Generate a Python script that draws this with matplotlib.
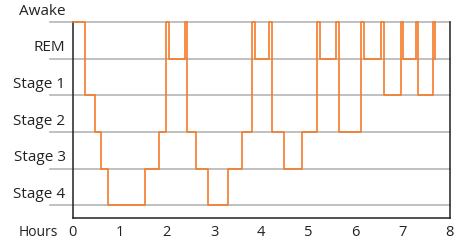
import matplotlib
matplotlib.use("Agg")
import matplotlib.pyplot as plt
import matplotlib.transforms as mtransforms

# Stage levels: Awake=5, REM=4, Stage 1=3, Stage 2=2, Stage 3=1, Stage 4=0
stage_labels = ["Stage 4", "Stage 3", "Stage 2", "Stage 1", "REM", "Awake"]
stage_levels = [0, 1, 2, 3, 4, 5]
hour_ticks = [0, 1, 2, 3, 4, 5, 6, 7, 8]

# transition times (hours) and stage entered at that time
times = [0.00, 0.255, 0.477, 0.607, 0.746, 1.540, 1.824, 1.990, 2.040, 2.375, 2.425,
         2.611, 2.873, 3.302, 3.585, 3.813, 3.870, 4.178, 4.238, 4.489, 4.877,
         5.181, 5.244, 5.596, 5.650, 6.120, 6.180, 6.545, 6.600, 6.964, 7.007,
         7.287, 7.337, 7.655, 7.697]
stages = [5, 3, 2, 1, 0, 1, 2, 5, 4, 5, 2,
          1, 0, 1, 2, 5, 4, 5, 2, 1, 2,
          5, 4, 5, 2, 5, 4, 5, 3, 5, 4,
          5, 3, 5, 4]

plt.rcParams['font.family'] = ['Open Sans', 'DejaVu Sans']

fig = plt.figure(figsize=(4.61, 2.42), dpi=100)
ax = fig.add_axes([72.7/461, 1-217.7/242, (449.5-72.7)/461, (217.7-22)/242])

ax.set_xlim(0, 7.8)
ax.set_ylim(-0.34, 5)

grid_col = "#b5b5b5"
for lv in stage_levels:
    ax.axhline(lv, xmin=-0.06, xmax=1.0, color=grid_col, lw=1.2, clip_on=False, zorder=1)

ax.plot(times, stages, drawstyle='steps-post', color="#f47b2a", lw=1.2,
        clip_on=False, zorder=3)

ax.spines['top'].set_visible(False)
for s in ['left', 'bottom', 'right']:
    ax.spines[s].set_color('#222222')
    ax.spines[s].set_linewidth(1.1)

ax.set_yticks([])
ax.set_xticks(hour_ticks)
ax.set_xticklabels([str(h) for h in hour_ticks], fontsize=10.5, color='#222222')
ax.tick_params(axis='x', length=0, pad=5)

# y labels above the lines, right aligned
trans_y = mtransforms.blended_transform_factory(ax.transAxes, ax.transData)
for lab, lv in zip(stage_labels, stage_levels):
    ax.text(-0.019, lv + 0.09, lab, transform=trans_y, ha='right', va='bottom',
            fontsize=11, color='#222222')

fig.text(38.5/461, ax.get_position().y0, "Hours", ha='center', va='top',
         fontsize=10, color='#222222',
         transform=fig.transFigure + mtransforms.ScaledTranslation(0, -5/72, fig.dpi_scale_trans))

fig.savefig("out.png", dpi=100)
